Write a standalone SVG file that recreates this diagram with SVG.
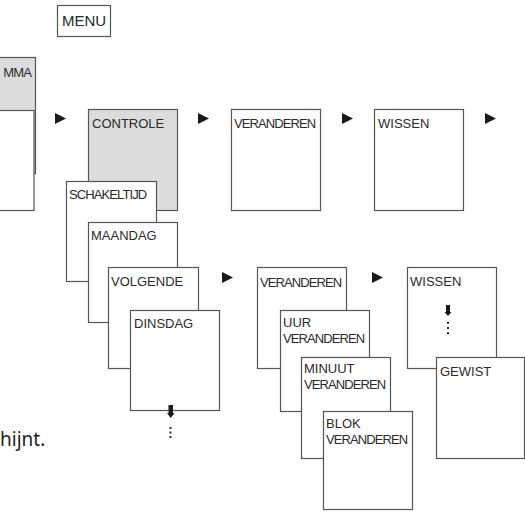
<svg xmlns="http://www.w3.org/2000/svg" width="525" height="512" viewBox="0 0 525 512">
<style>
.b{fill:#fff;stroke:#555;stroke-width:1.2}
.g{fill:#dcdcdc;stroke:#555;stroke-width:1.2}
.t{font-family:"Liberation Sans",Arial,sans-serif;font-size:13px;fill:#2a2a2a}
.c{letter-spacing:-0.9px}
.a{fill:#1a1a1a}
.d{fill:#333}
</style>
<rect width="525" height="512" fill="#fff"/>
<g id="menu"><rect class="b" x="57.5" y="5.5" width="53" height="31"/><text class="t" x="84" y="26" text-anchor="middle" style="font-size:15px">MENU</text></g>
<g id="programma"><rect class="g" x="-5" y="57.5" width="40.5" height="116"/><rect class="b" x="-5" y="110.5" width="39" height="100"/><text class="t c" x="31" y="77" text-anchor="end">MMA</text></g>
<g id="controle"><rect class="g" x="88.5" y="109.5" width="89" height="101"/><text class="t" x="92" y="128">CONTROLE</text></g>
<g id="veranderen1"><rect class="b" x="231.5" y="109.5" width="89" height="101"/><text class="t c" x="234" y="128">VERANDEREN</text></g>
<g id="wissen1"><rect class="b" x="374.5" y="109.5" width="89" height="101"/><text class="t" x="378" y="128">WISSEN</text></g>
<g id="schakeltijd"><rect class="b" x="66.5" y="181.5" width="90" height="100"/><text class="t c" x="69" y="199">SCHAKELTIJD</text></g>
<g id="maandag"><rect class="b" x="88.5" y="222.5" width="89" height="100"/><text class="t" x="91" y="240">MAANDAG</text></g>
<g id="volgende"><rect class="b" x="108.5" y="267.5" width="90" height="101"/><text class="t" x="111" y="286">VOLGENDE</text></g>
<g id="dinsdag"><rect class="b" x="130.5" y="310.5" width="89" height="100"/><text class="t" x="134" y="328">DINSDAG</text></g>
<g id="veranderen2"><rect class="b" x="257.5" y="267.5" width="89" height="101"/><text class="t c" x="260" y="287">VERANDEREN</text></g>
<g id="uur"><rect class="b" x="280.5" y="310.5" width="89" height="101"/><text class="t" x="283" y="327">UUR</text><text class="t c" x="283" y="343">VERANDEREN</text></g>
<g id="minuut"><rect class="b" x="301.5" y="357.5" width="89" height="101"/><text class="t" x="304" y="373">MINUUT</text><text class="t c" x="304" y="389">VERANDEREN</text></g>
<g id="blok"><rect class="b" x="323.5" y="411.5" width="89" height="98"/><text class="t" x="326" y="428">BLOK</text><text class="t c" x="326" y="444">VERANDEREN</text></g>
<g id="wissen2"><rect class="b" x="407.5" y="267.5" width="89" height="101"/><text class="t" x="410" y="286">WISSEN</text></g>
<g id="gewist"><rect class="b" x="436.5" y="357.5" width="88" height="101"/><text class="t" x="440" y="376">GEWIST</text></g>
<g id="connectors">
<path class="a" d="M55 113 L66 118.5 L55 124 Z"/>
<path class="a" d="M198 113 L209 118.5 L198 124 Z"/>
<path class="a" d="M342 113 L353 118.5 L342 124 Z"/>
<path class="a" d="M485 113 L496 118.5 L485 124 Z"/>
<path class="a" d="M222 272 L233 277.5 L222 283 Z"/>
<path class="a" d="M372 272 L383 277.5 L372 283 Z"/>
<path class="a" d="M168.5 405 H173 V413 H174.5 L170.7 418 L167 413 H168.5 Z"/>
<rect class="d" x="169.5" y="427" width="2" height="2"/><rect class="d" x="169.5" y="431.5" width="2" height="2"/><rect class="d" x="169.5" y="436" width="2" height="2"/>
<path class="a" d="M446 305 H450 V312 H451.5 L448 316 L444.5 312 H446 Z"/>
<rect class="d" x="447" y="322" width="2" height="2"/><rect class="d" x="447" y="327" width="2" height="2"/><rect class="d" x="447" y="332" width="2" height="2"/>
</g>
<text x="0" y="446" style="font-family:'Noto Sans','Open Sans',sans-serif;font-size:19px;fill:#222">hijnt.</text>
</svg>
